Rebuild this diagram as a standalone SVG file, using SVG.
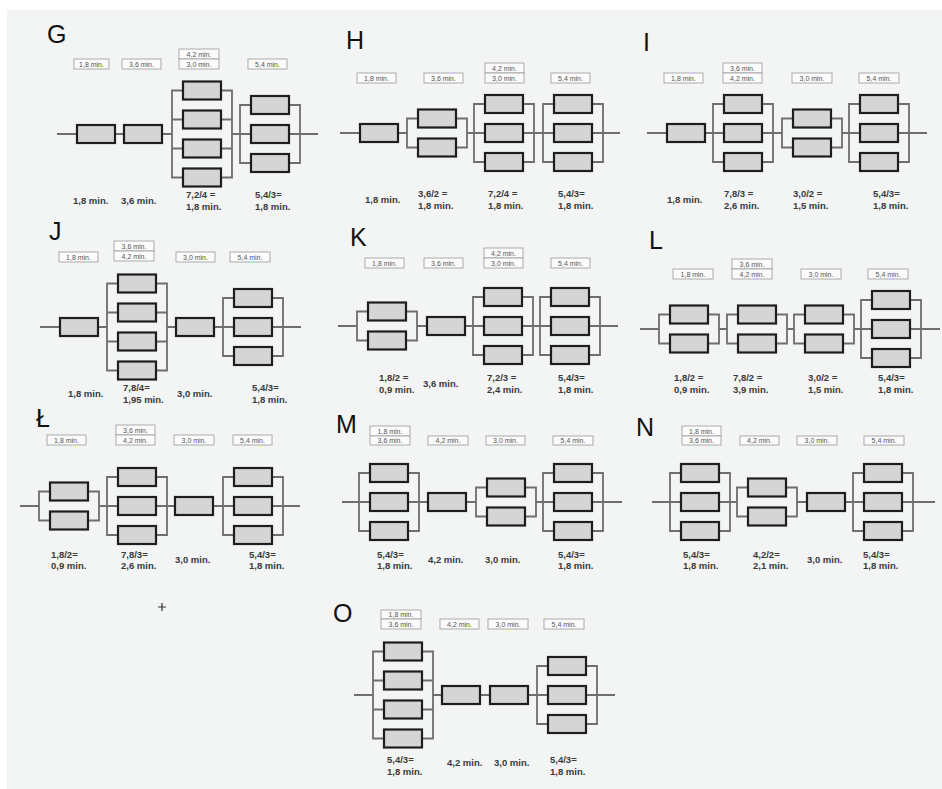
<svg xmlns="http://www.w3.org/2000/svg" xmlns:xlink="http://www.w3.org/1999/xlink" width="942" height="789" viewBox="0 0 942 789">
<style>
.bg{fill:#f3f4f4}
.ln{fill:none;stroke:#6e6e6e;stroke-width:1.8}
.bx{fill:#d5d5d5;stroke:#1e1e1e;stroke-width:2.2}
.lb{fill:#fbfbfb;stroke:#9a9a9a;stroke-width:0.8}
.lt{font-family:"Liberation Sans",Arial,sans-serif;font-size:7px;fill:#555;text-anchor:middle}
.bt{font-family:"Liberation Sans",Arial,sans-serif;font-size:9.5px;font-weight:bold;fill:#3a3a3a}
.tt{font-family:"Liberation Sans",Arial,sans-serif;font-size:25px;fill:#111}
</style>
<defs>
<rect id="b" class="bx" x="1" y="1" width="38" height="18"/>
</defs>
<rect class="bg" x="7" y="10" width="935" height="779"/>

<g id="connectors" class="ln">
<path d="M57,134H172M232,134H318M182,90.5H172V177.5H182M172,119.5H182M172,148.5H182M222,90.5H232V177.5H222M222,119.5H232M222,148.5H232M250,105H240V163H250M290,105H300V163H290"/>
<path d="M340,133H407M467,133H620M417,118.5H407V147.5H417M457,118.5H467V147.5H457M484,104H474V162H484M524,104H534V162H524M553,104H543V162H553M593,104H603V162H593"/>
<path d="M647,133H782M842,133H927M723,104H713V162H723M763,104H773V162H763M792,118.5H782V147.5H792M832,118.5H842V147.5H832M859,104H849V162H859M899,104H909V162H899"/>
<path d="M40,327H107M167,327H301M117,283.5H107V370.5H117M107,312.5H117M107,341.5H117M157,283.5H167V370.5H157M157,312.5H167M157,341.5H167M233,298H223V356H233M273,298H283V356H273"/>
<path d="M338,326H357M417,326H618M367,311.5H357V340.5H367M407,311.5H417V340.5H407M483,297H473V355H483M523,297H533V355H523M550,297H540V355H550M590,297H600V355H590"/>
<path d="M640,329H659M719,329H727M787,329H794M854,329H940M669,314.5H659V343.5H669M709,314.5H719V343.5H709M737,314.5H727V343.5H737M777,314.5H787V343.5H777M804,314.5H794V343.5H804M844,314.5H854V343.5H844M871,300H861V358H871M911,300H921V358H911"/>
<path d="M20,506H39M99,506H300M49,491.5H39V520.5H49M89,491.5H99V520.5H89M117,477H107V535H117M157,477H167V535H157M233,477H223V535H233M273,477H283V535H273"/>
<path d="M342,502H476M536,502H622M369,473H359V531H369M409,473H419V531H409M486,487.5H476V516.5H486M526,487.5H536V516.5H526M553,473H543V531H553M593,473H603V531H593"/>
<path d="M652,502H737M797,502H935M680,473H670V531H680M720,473H730V531H720M747,487.5H737V516.5H747M787,487.5H797V516.5H787M863,473H853V531H863M903,473H913V531H903"/>
<path d="M354,695H373M433,695H615M383,651.5H373V738.5H383M373,680.5H383M373,709.5H383M423,651.5H433V738.5H423M423,680.5H433M423,709.5H433M547,666H537V724H547M587,666H597V724H587"/>
<path d="M158,607H166M162,603V611" stroke="#333" stroke-width="1.2"/>
</g>

<g id="panel-G">
<text class="tt" x="47" y="43">G</text>
<rect class="lb" x="74" y="59" width="35" height="10"/><text class="lt" x="91.5" y="67">1,8 min.</text>
<rect class="lb" x="122" y="59" width="39" height="10"/><text class="lt" x="141.5" y="67">3,6 min.</text>
<rect class="lb" x="179" y="49" width="40" height="10"/><text class="lt" x="199" y="57">4,2 min.</text>
<rect class="lb" x="179" y="59" width="40" height="10"/><text class="lt" x="199" y="67">3,0 min.</text>
<rect class="lb" x="248" y="59" width="39" height="10"/><text class="lt" x="267.5" y="67">5,4 min.</text>
<g id="G1"><use href="#b" x="76" y="124"/></g>
<g id="G2"><use href="#b" x="123" y="124"/></g>
<g id="G3"><use href="#b" x="182" y="80.5"/><use href="#b" x="182" y="109.5"/><use href="#b" x="182" y="138.5"/><use href="#b" x="182" y="167.5"/></g>
<g id="G4"><use href="#b" x="250" y="95"/><use href="#b" x="250" y="124"/><use href="#b" x="250" y="153"/></g>
<text class="bt" x="73" y="204">1,8 min.</text>
<text class="bt" x="121" y="204">3,6 min.</text>
<text class="bt" x="186" y="198">7,2/4 =</text><text class="bt" x="186" y="210">1,8 min.</text>
<text class="bt" x="255" y="198">5,4/3=</text><text class="bt" x="255" y="210">1,8 min.</text>
</g>

<g id="panel-H">
<text class="tt" x="346" y="49">H</text>
<rect class="lb" x="357" y="73" width="39" height="10"/><text class="lt" x="376.5" y="81">1,8 min.</text>
<rect class="lb" x="424" y="73" width="39" height="10"/><text class="lt" x="443.5" y="81">3,6 min.</text>
<rect class="lb" x="485" y="63" width="39" height="10"/><text class="lt" x="504.5" y="71">4,2 min.</text>
<rect class="lb" x="485" y="73" width="39" height="10"/><text class="lt" x="504.5" y="81">3,0 min.</text>
<rect class="lb" x="551" y="73" width="39" height="10"/><text class="lt" x="570.5" y="81">5,4 min.</text>
<g id="H1"><use href="#b" x="359" y="123"/></g>
<g id="H2"><use href="#b" x="417" y="108.5"/><use href="#b" x="417" y="137.5"/></g>
<g id="H3"><use href="#b" x="484" y="94"/><use href="#b" x="484" y="123"/><use href="#b" x="484" y="152"/></g>
<g id="H4"><use href="#b" x="553" y="94"/><use href="#b" x="553" y="123"/><use href="#b" x="553" y="152"/></g>
<text class="bt" x="365" y="203">1,8 min.</text>
<text class="bt" x="418" y="197">3,6/2 =</text><text class="bt" x="418" y="209">1,8 min.</text>
<text class="bt" x="488" y="197">7,2/4 =</text><text class="bt" x="488" y="209">1,8 min.</text>
<text class="bt" x="558" y="197">5,4/3=</text><text class="bt" x="558" y="209">1,8 min.</text>
</g>

<g id="panel-I">
<text class="tt" x="643" y="51">I</text>
<rect class="lb" x="664" y="73" width="39" height="10"/><text class="lt" x="683.5" y="81">1,8 min.</text>
<rect class="lb" x="723" y="63" width="39" height="10"/><text class="lt" x="742.5" y="71">3,6 min.</text>
<rect class="lb" x="723" y="73" width="39" height="10"/><text class="lt" x="742.5" y="81">4,2 min.</text>
<rect class="lb" x="792" y="73" width="40" height="10"/><text class="lt" x="812" y="81">3,0 min.</text>
<rect class="lb" x="859" y="73" width="40" height="10"/><text class="lt" x="879" y="81">5,4 min.</text>
<g id="I1"><use href="#b" x="666" y="123"/></g>
<g id="I2"><use href="#b" x="723" y="94"/><use href="#b" x="723" y="123"/><use href="#b" x="723" y="152"/></g>
<g id="I3"><use href="#b" x="792" y="108.5"/><use href="#b" x="792" y="137.5"/></g>
<g id="I4"><use href="#b" x="859" y="94"/><use href="#b" x="859" y="123"/><use href="#b" x="859" y="152"/></g>
<text class="bt" x="667" y="203">1,8 min.</text>
<text class="bt" x="724" y="197">7,8/3 =</text><text class="bt" x="724" y="209">2,6 min.</text>
<text class="bt" x="793" y="197">3,0/2 =</text><text class="bt" x="793" y="209">1,5 min.</text>
<text class="bt" x="873" y="197">5,4/3=</text><text class="bt" x="873" y="209">1,8 min.</text>
</g>

<g id="panel-J">
<text class="tt" x="49" y="240">J</text>
<rect class="lb" x="59" y="252" width="39" height="10"/><text class="lt" x="78.5" y="260">1,8 min.</text>
<rect class="lb" x="114" y="241" width="40" height="10"/><text class="lt" x="134" y="249">3,6 min.</text>
<rect class="lb" x="114" y="251" width="40" height="10"/><text class="lt" x="134" y="259">4,2 min.</text>
<rect class="lb" x="176" y="252" width="39" height="10"/><text class="lt" x="195.5" y="260">3,0 min.</text>
<rect class="lb" x="230" y="252" width="40" height="10"/><text class="lt" x="250" y="260">5,4 min.</text>
<g id="J1"><use href="#b" x="59" y="317"/></g>
<g id="J2"><use href="#b" x="117" y="273.5"/><use href="#b" x="117" y="302.5"/><use href="#b" x="117" y="331.5"/><use href="#b" x="117" y="360.5"/></g>
<g id="J3"><use href="#b" x="175" y="317"/></g>
<g id="J4"><use href="#b" x="233" y="288"/><use href="#b" x="233" y="317"/><use href="#b" x="233" y="346"/></g>
<text class="bt" x="68" y="397">1,8 min.</text>
<text class="bt" x="123" y="391">7,8/4=</text><text class="bt" x="123" y="403">1,95 min.</text>
<text class="bt" x="177" y="397">3,0 min.</text>
<text class="bt" x="252" y="391">5,4/3=</text><text class="bt" x="252" y="403">1,8 min.</text>
</g>

<g id="panel-K">
<text class="tt" x="350" y="246">K</text>
<rect class="lb" x="365" y="258" width="39" height="10"/><text class="lt" x="384.5" y="266">1,8 min.</text>
<rect class="lb" x="424" y="258" width="39" height="10"/><text class="lt" x="443.5" y="266">3,6 min.</text>
<rect class="lb" x="484" y="248" width="39" height="10"/><text class="lt" x="503.5" y="256">4,2 min.</text>
<rect class="lb" x="484" y="258" width="39" height="10"/><text class="lt" x="503.5" y="266">3,0 min.</text>
<rect class="lb" x="551" y="258" width="39" height="10"/><text class="lt" x="570.5" y="266">5,4 min.</text>
<g id="K1"><use href="#b" x="367" y="301.5"/><use href="#b" x="367" y="330.5"/></g>
<g id="K2"><use href="#b" x="426" y="316"/></g>
<g id="K3"><use href="#b" x="483" y="287"/><use href="#b" x="483" y="316"/><use href="#b" x="483" y="345"/></g>
<g id="K4"><use href="#b" x="550" y="287"/><use href="#b" x="550" y="316"/><use href="#b" x="550" y="345"/></g>
<text class="bt" x="379" y="381">1,8/2 =</text><text class="bt" x="379" y="393">0,9 min.</text>
<text class="bt" x="423" y="387">3,6 min.</text>
<text class="bt" x="487" y="381">7,2/3 =</text><text class="bt" x="487" y="393">2,4 min.</text>
<text class="bt" x="558" y="381">5,4/3=</text><text class="bt" x="558" y="393">1,8 min.</text>
</g>

<g id="panel-L">
<text class="tt" x="649" y="249">L</text>
<rect class="lb" x="673" y="269" width="40" height="10"/><text class="lt" x="693" y="277">1,8 min.</text>
<rect class="lb" x="732" y="259" width="40" height="10"/><text class="lt" x="752" y="267">3,6 min.</text>
<rect class="lb" x="732" y="269" width="40" height="10"/><text class="lt" x="752" y="277">4,2 min.</text>
<rect class="lb" x="801" y="269" width="40" height="10"/><text class="lt" x="821" y="277">3,0 min.</text>
<rect class="lb" x="868" y="269" width="40" height="10"/><text class="lt" x="888" y="277">5,4 min.</text>
<g id="L1"><use href="#b" x="669" y="304.5"/><use href="#b" x="669" y="333.5"/></g>
<g id="L2"><use href="#b" x="737" y="304.5"/><use href="#b" x="737" y="333.5"/></g>
<g id="L3"><use href="#b" x="804" y="304.5"/><use href="#b" x="804" y="333.5"/></g>
<g id="L4"><use href="#b" x="871" y="290"/><use href="#b" x="871" y="319"/><use href="#b" x="871" y="348"/></g>
<text class="bt" x="674" y="381">1,8/2 =</text><text class="bt" x="674" y="393">0,9 min.</text>
<text class="bt" x="733" y="381">7,8/2 =</text><text class="bt" x="733" y="393">3,9 min.</text>
<text class="bt" x="808" y="381">3,0/2 =</text><text class="bt" x="808" y="393">1,5 min.</text>
<text class="bt" x="878" y="381">5,4/3=</text><text class="bt" x="878" y="393">1,8 min.</text>
</g>

<g id="panel-L-stroke">
<text class="tt" x="36" y="427">Ł</text>
<rect class="lb" x="47" y="435" width="39" height="10"/><text class="lt" x="66.5" y="443">1,8 min.</text>
<rect class="lb" x="116" y="425" width="39" height="10"/><text class="lt" x="135.5" y="433">3,6 min.</text>
<rect class="lb" x="116" y="435" width="39" height="10"/><text class="lt" x="135.5" y="443">4,2 min.</text>
<rect class="lb" x="174" y="435" width="40" height="10"/><text class="lt" x="194" y="443">3,0 min.</text>
<rect class="lb" x="233" y="435" width="39" height="10"/><text class="lt" x="252.5" y="443">5,4 min.</text>
<g id="Ł1"><use href="#b" x="49" y="481.5"/><use href="#b" x="49" y="510.5"/></g>
<g id="Ł2"><use href="#b" x="117" y="467"/><use href="#b" x="117" y="496"/><use href="#b" x="117" y="525"/></g>
<g id="Ł3"><use href="#b" x="174" y="496"/></g>
<g id="Ł4"><use href="#b" x="233" y="467"/><use href="#b" x="233" y="496"/><use href="#b" x="233" y="525"/></g>
<text class="bt" x="51" y="558">1,8/2=</text><text class="bt" x="51" y="569">0,9 min.</text>
<text class="bt" x="121" y="558">7,8/3=</text><text class="bt" x="121" y="569">2,6 min.</text>
<text class="bt" x="175" y="563">3,0 min.</text>
<text class="bt" x="249" y="558">5,4/3=</text><text class="bt" x="249" y="569">1,8 min.</text>
</g>

<g id="panel-M">
<text class="tt" x="336" y="433">M</text>
<rect class="lb" x="370" y="426" width="40" height="10"/><text class="lt" x="390" y="434">1,8 min.</text>
<rect class="lb" x="370" y="436" width="40" height="9"/><text class="lt" x="390" y="443">3,6 min.</text>
<rect class="lb" x="428" y="436" width="40" height="9"/><text class="lt" x="448" y="443">4,2 min.</text>
<rect class="lb" x="486" y="436" width="39" height="9"/><text class="lt" x="505.5" y="443">3,0 min.</text>
<rect class="lb" x="553" y="436" width="40" height="9"/><text class="lt" x="573" y="443">5,4 min.</text>
<g id="M1"><use href="#b" x="369" y="463"/><use href="#b" x="369" y="492"/><use href="#b" x="369" y="521"/></g>
<g id="M2"><use href="#b" x="427" y="492"/></g>
<g id="M3"><use href="#b" x="486" y="477.5"/><use href="#b" x="486" y="506.5"/></g>
<g id="M4"><use href="#b" x="553" y="463"/><use href="#b" x="553" y="492"/><use href="#b" x="553" y="521"/></g>
<text class="bt" x="377" y="558">5,4/3=</text><text class="bt" x="377" y="569">1,8 min.</text>
<text class="bt" x="428" y="563">4,2 min.</text>
<text class="bt" x="485" y="563">3,0 min.</text>
<text class="bt" x="558" y="558">5,4/3=</text><text class="bt" x="558" y="569">1,8 min.</text>
</g>

<g id="panel-N">
<text class="tt" x="636" y="436">N</text>
<rect class="lb" x="682" y="426" width="39" height="10"/><text class="lt" x="701.5" y="434">1,8 min.</text>
<rect class="lb" x="682" y="436" width="39" height="9"/><text class="lt" x="701.5" y="443">3,6 min.</text>
<rect class="lb" x="740" y="436" width="39" height="9"/><text class="lt" x="759.5" y="443">4,2 min.</text>
<rect class="lb" x="797" y="436" width="40" height="9"/><text class="lt" x="817" y="443">3,0 min.</text>
<rect class="lb" x="864" y="436" width="40" height="9"/><text class="lt" x="884" y="443">5,4 min.</text>
<g id="N1"><use href="#b" x="680" y="463"/><use href="#b" x="680" y="492"/><use href="#b" x="680" y="521"/></g>
<g id="N2"><use href="#b" x="747" y="477.5"/><use href="#b" x="747" y="506.5"/></g>
<g id="N3"><use href="#b" x="806" y="492"/></g>
<g id="N4"><use href="#b" x="863" y="463"/><use href="#b" x="863" y="492"/><use href="#b" x="863" y="521"/></g>
<text class="bt" x="683" y="558">5,4/3=</text><text class="bt" x="683" y="569">1,8 min.</text>
<text class="bt" x="753" y="558">4,2/2=</text><text class="bt" x="753" y="569">2,1 min.</text>
<text class="bt" x="807" y="563">3,0 min.</text>
<text class="bt" x="863" y="558">5,4/3=</text><text class="bt" x="863" y="569">1,8 min.</text>
</g>

<g id="panel-O">
<text class="tt" x="333" y="622">O</text>
<rect class="lb" x="381" y="610" width="40" height="9"/><text class="lt" x="401" y="617">1,8 min.</text>
<rect class="lb" x="381" y="619" width="40" height="10"/><text class="lt" x="401" y="627">3,6 min.</text>
<rect class="lb" x="440" y="619" width="39" height="10"/><text class="lt" x="459.5" y="627">4,2 min.</text>
<rect class="lb" x="488" y="619" width="40" height="10"/><text class="lt" x="508" y="627">3,0 min.</text>
<rect class="lb" x="544" y="619" width="40" height="10"/><text class="lt" x="564" y="627">5,4 min.</text>
<g id="O1"><use href="#b" x="383" y="641.5"/><use href="#b" x="383" y="670.5"/><use href="#b" x="383" y="699.5"/><use href="#b" x="383" y="728.5"/></g>
<g id="O2"><use href="#b" x="441" y="685"/></g>
<g id="O3"><use href="#b" x="489" y="685"/></g>
<g id="O4"><use href="#b" x="547" y="656"/><use href="#b" x="547" y="685"/><use href="#b" x="547" y="714"/></g>
<text class="bt" x="387" y="763">5,4/3=</text><text class="bt" x="387" y="775">1,8 min.</text>
<text class="bt" x="447" y="766">4,2 min.</text>
<text class="bt" x="494" y="766">3,0 min.</text>
<text class="bt" x="550" y="763">5,4/3=</text><text class="bt" x="550" y="775">1,8 min.</text>
</g>
</svg>
